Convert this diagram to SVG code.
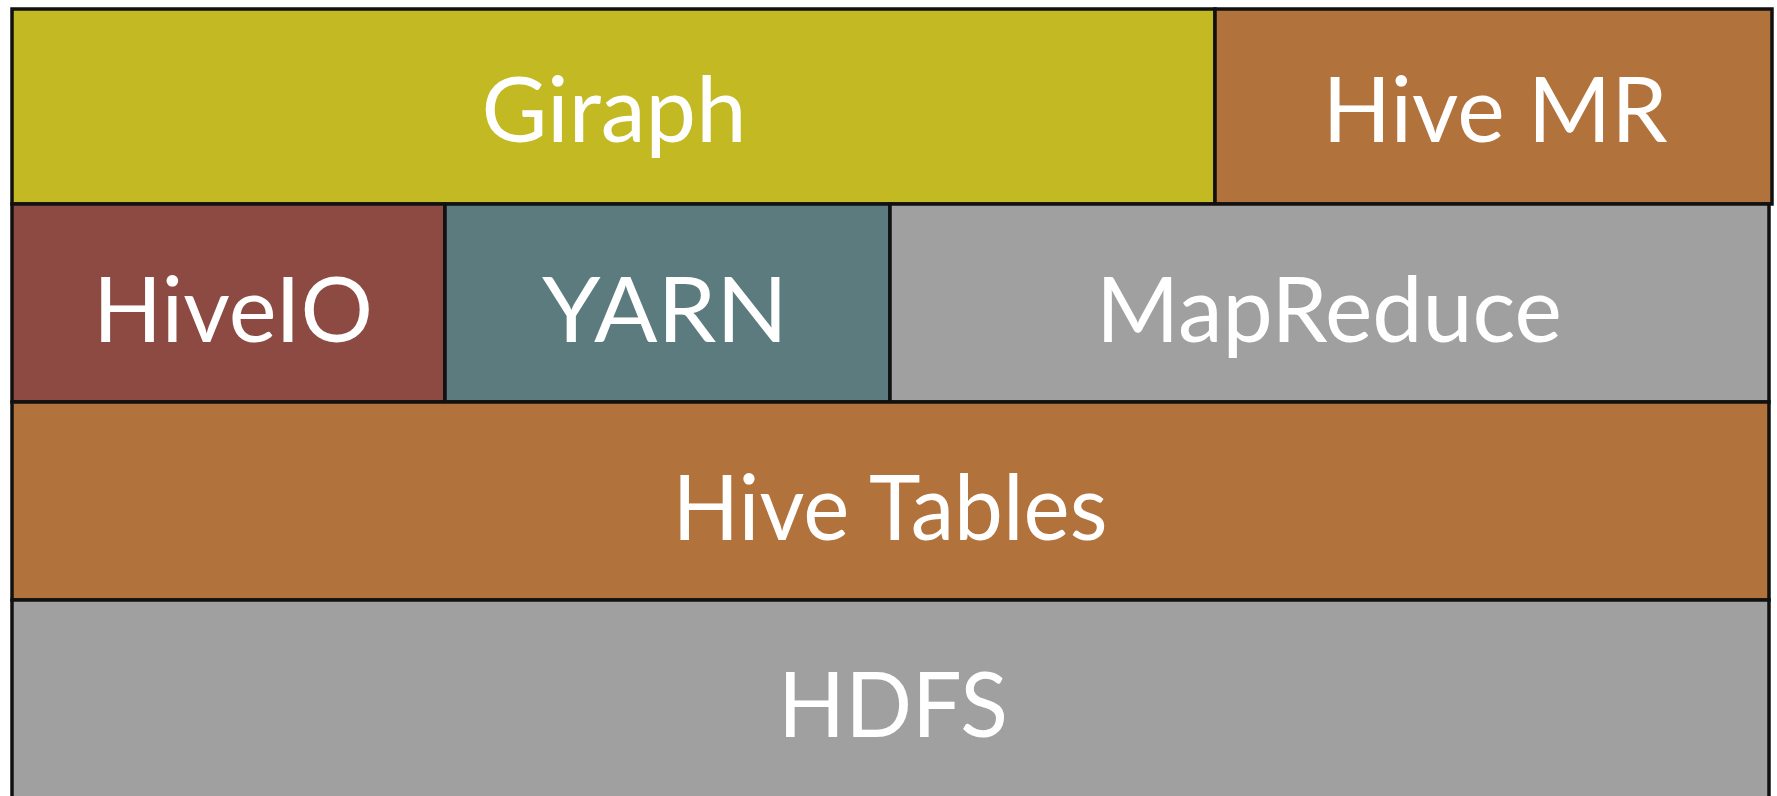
<svg xmlns="http://www.w3.org/2000/svg" width="1777" height="796" viewBox="0 0 1777 796">
<style>
.box{stroke:#111;stroke-width:3.5}
.lbl{font-family:Lato,"Open Sans","Liberation Sans",sans-serif;font-size:92px;fill:#fff;text-anchor:middle}
</style>
<rect width="1777" height="796" fill="#fff"/>
<g id="giraph"><rect class="box" x="12" y="9" width="1203" height="195" fill="#C3B923"/><text class="lbl" x="614" y="142" textLength="265" lengthAdjust="spacingAndGlyphs">Giraph</text></g>
<g id="hivemr"><rect class="box" x="1215" y="9" width="557" height="195" fill="#B2723B"/><text class="lbl" x="1495" y="142" textLength="345" lengthAdjust="spacingAndGlyphs">Hive MR</text></g>
<g id="hiveio"><rect class="box" x="12" y="204" width="433" height="198" fill="#8C4A42"/><text class="lbl" x="233" y="342" textLength="280" lengthAdjust="spacingAndGlyphs">HiveIO</text></g>
<g id="yarn"><rect class="box" x="445" y="204" width="445" height="198" fill="#5B7B7E"/><text class="lbl" x="665" y="342" textLength="246" lengthAdjust="spacingAndGlyphs">YARN</text></g>
<g id="mapreduce"><rect class="box" x="890" y="204" width="879" height="198" fill="#A0A0A0"/><text class="lbl" x="1329" y="342" textLength="466" lengthAdjust="spacingAndGlyphs">MapReduce</text></g>
<g id="hivetables"><rect class="box" x="12" y="402" width="1757" height="198" fill="#B2723B"/><text class="lbl" x="890" y="540" textLength="435" lengthAdjust="spacingAndGlyphs">Hive Tables</text></g>
<g id="hdfs"><rect class="box" x="12" y="600" width="1757" height="198" fill="#A0A0A0"/><text class="lbl" x="893" y="737" textLength="230" lengthAdjust="spacingAndGlyphs">HDFS</text></g>
<g id="connectors"/>
</svg>
